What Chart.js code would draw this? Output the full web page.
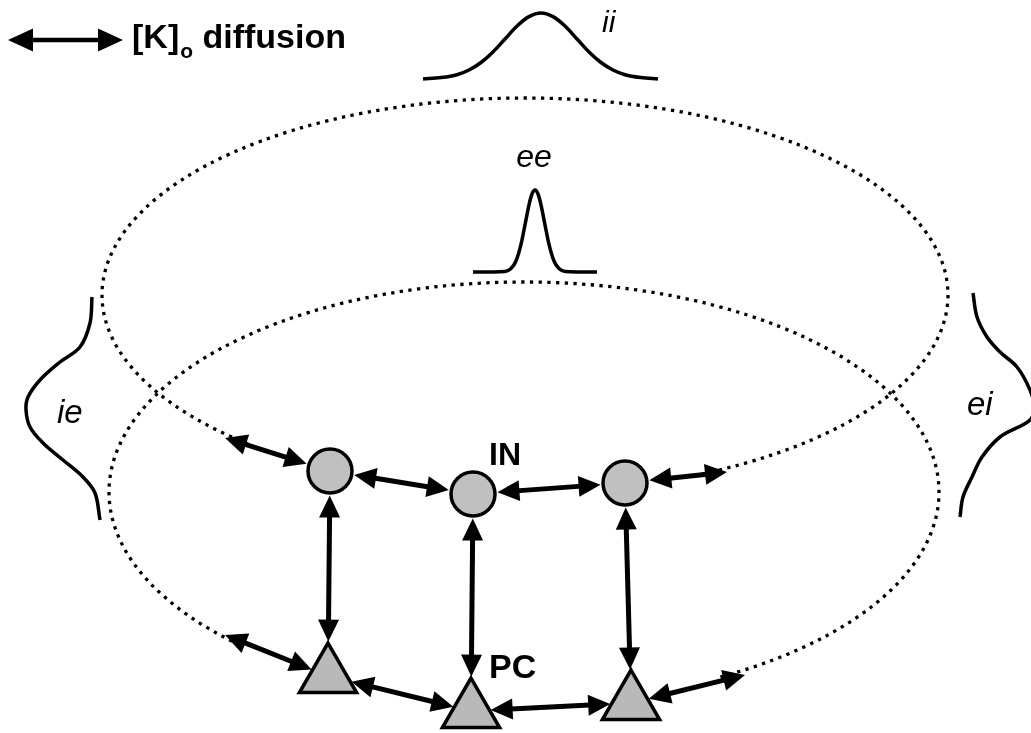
<!DOCTYPE html>
<html>
<head>
<meta charset="utf-8">
<script src="https://cdn.jsdelivr.net/npm/chart.js@4.4.0/dist/chart.umd.min.js"></script>
<style>
html, body { margin: 0; padding: 0; background: #fff; }
#wrap { width: 1031px; height: 733px; }
</style>
</head>
<body>
<div id="wrap"><canvas id="myChart" width="1031" height="733"></canvas></div>
<script>
// node positions (picture pixels, y grows downward)
const inX = [330, 473, 625];
const inY = [471, 494, 483];
const pcX = [328, 471, 631];
const pcY = [676, 711, 703];
// free ends of the outer arrows: upper-left, upper-right, lower-left, lower-right
const outX = [225, 727, 225, 745];
const outY = [438, 472, 635, 675];
// the two dotted rings: upper (IN), lower (PC)
const ringCX = [525, 524];
const ringCY = [295, 492];
const ringRX = [423, 415];
const ringRY = [197, 210];
// connectivity profiles
const iiX = [423, 441, 457, 469, 481, 493, 505, 517, 529, 541, 553, 565, 577, 589, 601, 613, 625, 641, 658];
const iiY = [79, 77.6, 74.7, 70, 62.5, 52, 39, 26, 16.6, 13, 16.6, 26, 39, 52, 62.5, 70, 74.7, 77.6, 79];
const eeX = [473, 505, 511, 516, 521, 525, 529, 532, 535, 538, 541, 545, 549, 554, 559, 565, 597];
const eeY = [272, 271.4, 268.6, 261, 244.4, 224.9, 204.8, 194, 190, 194, 204.8, 224.9, 244.4, 261, 268.6, 271.4, 272];
const ieX = [92, 90, 80, 60, 40, 28, 26, 30, 43, 63, 83, 95, 100];
const ieY = [297, 323, 347, 362, 380, 397, 410, 427, 443, 460, 477, 493, 520];
const eiX = [973, 977, 987, 1000, 1017, 1030, 1034, 1030, 1000, 982, 972, 963, 960];
const eiY = [293, 317, 337, 352, 367, 390, 407, 420, 437, 457, 477, 497, 517];
// labels
const labelText = ['ii', 'ee', 'ie', 'ei', 'IN', 'PC'];
const labelX = [602, 534, 57, 967, 489, 489];
const labelY = [32, 167, 423, 415, 465, 678];

function pts(xs, ys) {
    return xs.map((x, i) => ({ x: x, y: ys[i] }));
}

function arrow(ctx, x1, y1, x2, y2, head, half, lw) {
    const dx = x2 - x1, dy = y2 - y1, len = Math.hypot(dx, dy);
    const ux = dx / len, uy = dy / len;
    ctx.save();
    ctx.setLineDash([]);
    ctx.lineWidth = lw;
    ctx.lineCap = 'butt';
    ctx.strokeStyle = '#000';
    ctx.fillStyle = '#000';
    ctx.beginPath();
    ctx.moveTo(x1 + ux * head * 0.7, y1 + uy * head * 0.7);
    ctx.lineTo(x2 - ux * head * 0.7, y2 - uy * head * 0.7);
    ctx.stroke();
    [[x1, y1, -1], [x2, y2, 1]].forEach(([tx, ty, s]) => {
        const bx = tx - s * ux * head, by = ty - s * uy * head;
        ctx.beginPath();
        ctx.moveTo(tx, ty);
        ctx.lineTo(bx - uy * half, by + ux * half);
        ctx.lineTo(bx + uy * half, by - ux * half);
        ctx.closePath();
        ctx.fill();
    });
    ctx.restore();
}

const CIRCLE_R = 22;
const TRI_R = 33;

// distance from node centre to its outline along (ux, uy)
function edgeDist(kind, ux, uy) {
    if (kind === 'c') return CIRCLE_R + 2.5;
    const r = TRI_R + 2;
    const v = [[0, -r], [0.866 * r, 0.5 * r], [-0.866 * r, 0.5 * r]];
    let best = r;
    for (let i = 0; i < 3; i++) {
        const a = v[i], b = v[(i + 1) % 3];
        const ex = b[0] - a[0], ey = b[1] - a[1];
        const den = ux * ey - uy * ex;
        if (Math.abs(den) < 1e-9) continue;
        const t = (a[0] * ey - a[1] * ex) / den;
        const s = (a[0] * uy - a[1] * ux) / den;
        if (t > 0 && s >= 0 && s <= 1 && t < best) best = t;
    }
    return best;
}

function link(ctx, ax, ay, akind, bx, by, bkind) {
    const dx = bx - ax, dy = by - ay, len = Math.hypot(dx, dy);
    const ux = dx / len, uy = dy / len;
    const da = akind ? edgeDist(akind, ux, uy) : 0;
    const db = bkind ? edgeDist(bkind, -ux, -uy) : 0;
    arrow(ctx, ax + ux * da, ay + uy * da, bx - ux * db, by - uy * db, 22, 10.5, 5);
}

const diagramPlugin = {
    id: 'diagram',
    beforeDatasetsDraw(chart) {
        const ctx = chart.ctx;
        const xs = chart.scales.x, ys = chart.scales.y;
        const inMeta = chart.getDatasetMeta(4).data;
        const pcMeta = chart.getDatasetMeta(5).data;
        const ox = outX.map(v => xs.getPixelForValue(v));
        const oy = outY.map(v => ys.getPixelForValue(v));

        // dotted rings, open at the bottom where the arrows run
        ctx.save();
        ctx.strokeStyle = '#000';
        ctx.lineWidth = 3.3;
        ctx.setLineDash([3.3, 5.4]);
        for (let k = 0; k < 2; k++) {
            const cx = xs.getPixelForValue(ringCX[k]);
            const cy = ys.getPixelForValue(ringCY[k]);
            const rx = xs.getPixelForValue(ringCX[k] + ringRX[k]) - cx;
            const ry = ys.getPixelForValue(ringCY[k] + ringRY[k]) - cy;
            const a0 = Math.atan2((oy[2 * k] - cy) / ry, (ox[2 * k] - cx) / rx) - 0.06;
            const a1 = Math.atan2((oy[2 * k + 1] - cy) / ry, (ox[2 * k + 1] - cx) / rx) + 0.06;
            ctx.beginPath();
            ctx.ellipse(cx, cy, rx, ry, 0, a0, a1, false);
            ctx.stroke();
        }
        ctx.restore();

        // IN-IN and PC-PC links
        for (let i = 0; i < 2; i++) {
            link(ctx, inMeta[i].x, inMeta[i].y, 'c', inMeta[i + 1].x, inMeta[i + 1].y, 'c');
            link(ctx, pcMeta[i].x, pcMeta[i].y, 't', pcMeta[i + 1].x, pcMeta[i + 1].y, 't');
        }
        // PC-IN vertical links
        for (let i = 0; i < 3; i++) {
            link(ctx, pcMeta[i].x, pcMeta[i].y, 't', inMeta[i].x, inMeta[i].y, 'c');
        }
        // outer links
        link(ctx, inMeta[0].x, inMeta[0].y, 'c', ox[0], oy[0], null);
        link(ctx, inMeta[2].x, inMeta[2].y, 'c', ox[1], oy[1], null);
        link(ctx, pcMeta[0].x, pcMeta[0].y, 't', ox[2], oy[2], null);
        link(ctx, pcMeta[2].x, pcMeta[2].y, 't', ox[3], oy[3], null);
    },
    afterDatasetsDraw(chart) {
        const ctx = chart.ctx;
        const xs = chart.scales.x, ys = chart.scales.y;
        const fonts = [
            'italic 30px "Liberation Sans", Arial, sans-serif',
            'italic 32px "Liberation Sans", Arial, sans-serif',
            'italic 33px "Liberation Sans", Arial, sans-serif',
            'italic 33px "Liberation Sans", Arial, sans-serif',
            'bold 32px "Liberation Sans", Arial, sans-serif',
            'bold 34px "Liberation Sans", Arial, sans-serif'
        ];
        ctx.save();
        ctx.fillStyle = '#000';
        ctx.textBaseline = 'alphabetic';
        labelText.forEach((t, i) => {
            ctx.font = fonts[i];
            ctx.textAlign = i === 1 ? 'center' : 'left';
            ctx.fillText(t, xs.getPixelForValue(labelX[i]), ys.getPixelForValue(labelY[i]));
        });

        // key in the top-left corner
        arrow(ctx, 8, 40, 123, 40, 25, 11.5, 4.5);
        ctx.textAlign = 'left';
        ctx.font = 'bold 34px "Liberation Sans", Arial, sans-serif';
        ctx.fillText('[K]', 132, 48);
        let x = 132 + ctx.measureText('[K]').width;
        ctx.font = 'bold 21px "Liberation Sans", Arial, sans-serif';
        ctx.fillText('o', x + 1, 58);
        x += 1 + ctx.measureText('o').width;
        ctx.font = 'bold 34px "Liberation Sans", Arial, sans-serif';
        ctx.fillText(' diffusion', x, 48);
        ctx.restore();
    }
};

const curve = {
    showLine: true,
    borderColor: '#000',
    borderWidth: 3.5,
    pointRadius: 0,
    fill: false,
    clip: false
};

const config = {
    type: 'scatter',
    data: {
        datasets: [
            Object.assign({ label: 'ii', data: pts(iiX, iiY), cubicInterpolationMode: 'monotone' }, curve),
            Object.assign({ label: 'ee', data: pts(eeX, eeY), cubicInterpolationMode: 'monotone' }, curve),
            Object.assign({ label: 'ie', data: pts(ieX, ieY), tension: 0.35 }, curve),
            Object.assign({ label: 'ei', data: pts(eiX, eiY), tension: 0.35 }, curve),
            {
                label: 'IN',
                data: pts(inX, inY),
                pointStyle: 'circle',
                pointRadius: CIRCLE_R,
                backgroundColor: '#c0c0c0',
                borderColor: '#000',
                borderWidth: 3.5,
                clip: false
            },
            {
                label: 'PC',
                data: pts(pcX, pcY),
                pointStyle: 'triangle',
                pointRadius: TRI_R,
                backgroundColor: '#b9b9b9',
                borderColor: '#000',
                borderWidth: 3.5,
                clip: false
            }
        ]
    },
    options: {
        responsive: false,
        animation: false,
        events: [],
        layout: { padding: 0, autoPadding: false },
        plugins: {
            legend: { display: false },
            tooltip: { enabled: false }
        },
        scales: {
            x: { type: 'linear', min: 0, max: 1031, display: false },
            y: { type: 'linear', min: 0, max: 733, reverse: true, display: false }
        }
    },
    plugins: [diagramPlugin]
};

const myChart = new Chart(document.getElementById('myChart').getContext('2d'), config);
</script>
</body>
</html>
